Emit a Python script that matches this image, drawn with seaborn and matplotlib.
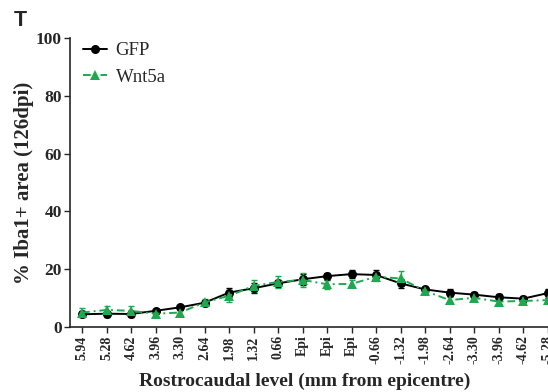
import matplotlib
matplotlib.use("Agg")
import matplotlib.pyplot as plt
import seaborn as sns
import pandas as pd
import numpy as np

# rostrocaudal levels (mm from epicentre)
levels = ["5.94", "5.28", "4.62", "3.96", "3.30", "2.64", "1.98", "1.32", "0.66",
          "Epi", "Epi", "Epi", "-0.66", "-1.32", "-1.98", "-2.64", "-3.30",
          "-3.96", "-4.62", "-5.28"]
gfp = [4.4, 4.6, 4.5, 5.6, 6.8, 8.4, 11.9, 13.4, 15.1, 16.5, 17.6, 18.3,
       18.0, 15.1, 13.0, 11.9, 11.2, 10.3, 9.8, 11.7]
gfp_err = [1.0, 1.0, 1.0, 0.7, 0.8, 1.0, 1.5, 1.8, 1.3, 1.8, 1.2, 1.3,
           1.8, 1.6, 1.0, 1.2, 1.0, 1.0, 1.0, 1.6]
wnt5a = [5.0, 5.9, 5.6, 4.6, 5.0, 8.5, 10.8, 14.2, 15.6, 16.3, 14.8, 14.9,
         17.4, 16.8, 12.5, 9.3, 10.1, 8.8, 9.0, 9.3]
wnt5a_err = [1.5, 1.5, 1.5, 1.0, 1.0, 1.2, 2.0, 2.0, 2.0, 2.5, 1.5, 1.2,
             1.5, 2.5, 1.2, 1.0, 1.0, 1.0, 0.8, 1.0]

pos = np.arange(len(levels))
df = pd.DataFrame({
    "pos": np.concatenate([pos, pos]),
    "value": gfp + wnt5a,
    "err": gfp_err + wnt5a_err,
    "group": ["GFP"] * len(pos) + ["Wnt5a"] * len(pos),
})

sns.set_style("ticks")
plt.rcParams["font.family"] = ["Liberation Serif", "DejaVu Serif"]
plt.rcParams["font.weight"] = "bold"

colors = {"GFP": "black", "Wnt5a": "#1fa84f"}
styles = {"GFP": "-", "Wnt5a": (0, (4, 2, 1, 2))}
markers = {"GFP": "o", "Wnt5a": "^"}

fig = plt.figure(figsize=(5.48, 3.92), dpi=100)
ax = fig.add_axes([70 / 548, 1 - 327 / 392, (562 - 70) / 548, (327 - 38) / 392])

for name in ["GFP", "Wnt5a"]:
    sub = df[df["group"] == name]
    ax.errorbar(sub["pos"], sub["value"], yerr=sub["err"], fmt="none",
                ecolor=colors[name], elinewidth=1.0, capsize=2, capthick=1.0, zorder=2)
    sns.lineplot(data=sub, x="pos", y="value", ax=ax, color=colors[name],
                 marker=markers[name], markersize=6.5, markeredgewidth=0,
                 linewidth=1.4, label=name, zorder=3 if name == "GFP" else 4)
    ax.lines[-1].set_linestyle(styles[name])

ax.set_ylim(0, 100)
ax.set_xlim(-0.49, (562 - 82) / 24.5)
ax.set_yticks([0, 20, 40, 60, 80, 100])
ax.set_xticks(pos)
ax.set_xticklabels(levels, rotation=90, fontsize=10, fontweight="bold")
for lab in ax.get_yticklabels():
    lab.set_fontsize(12.5)
    lab.set_fontweight("bold")
ax.tick_params(direction="out", length=4, width=1.0, pad=2)
sns.despine(ax=ax)
for s in ["left", "bottom"]:
    ax.spines[s].set_linewidth(1.2)

ax.set_xlabel("Rostrocaudal level (mm from epicentre)", fontsize=14,
              fontweight="bold")
ax.xaxis.set_label_coords((305 - 70) / (562 - 70), -0.158)
ax.set_ylabel("% Iba1+ area (126dpi)", fontsize=15, fontweight="bold")
ax.yaxis.set_label_coords(-0.074, 0.5)

leg = ax.legend(loc="upper left", bbox_to_anchor=(0.026, 0.985), frameon=False,
                borderpad=0, borderaxespad=0,
                fontsize=13.5, handlelength=1.3, handletextpad=0.45, labelspacing=0.5)
for t in leg.get_texts():
    t.set_fontweight("normal")

fig.text(14 / 548, 1 - 20 / 392, "T", fontsize=15.5, fontweight="bold",
         family="Liberation Sans", ha="left", va="center")

fig.savefig("out.png", dpi=100)
